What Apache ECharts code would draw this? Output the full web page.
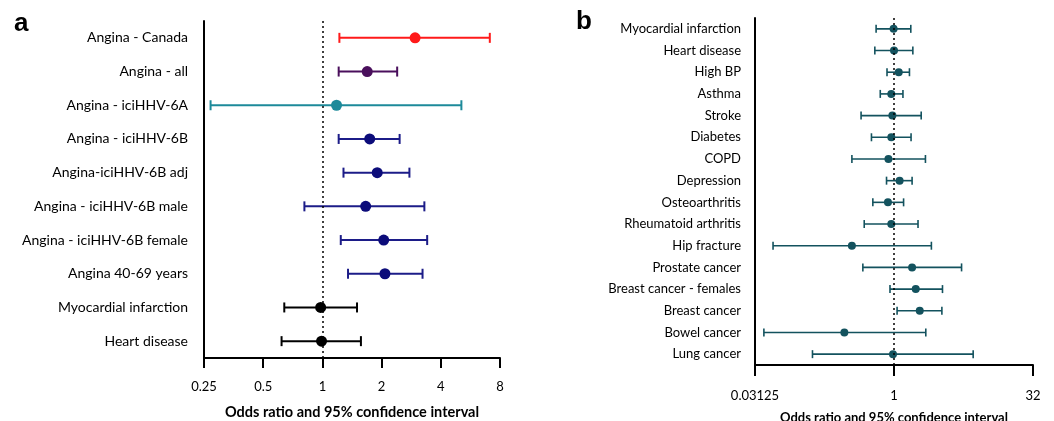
<!DOCTYPE html>
<html>
<head>
<meta charset="utf-8">
<script src="https://cdn.jsdelivr.net/npm/echarts@6/dist/echarts.min.js"></script>
<style>
  html, body { margin: 0; padding: 0; background: #fff; }
  #main { width: 1054px; height: 421px; }
</style>
</head>
<body>
<div id="main"></div>
<script>
// panel a - angina and iciHHV-6
var catsA = ['Angina - Canada', 'Angina - all', 'Angina - iciHHV-6A', 'Angina - iciHHV-6B',
    'Angina-iciHHV-6B adj', 'Angina - iciHHV-6B male', 'Angina - iciHHV-6B female',
    'Angina 40-69 years', 'Myocardial infarction', 'Heart disease'];
var orA = [2.96, 1.69, 1.18, 1.74, 1.90, 1.66, 2.05, 2.08, 0.98, 0.99];
var loA = [1.22, 1.21, 0.27, 1.21, 1.28, 0.81, 1.24, 1.35, 0.64, 0.62];
var hiA = [7.1, 2.40, 5.09, 2.47, 2.77, 3.30, 3.41, 3.23, 1.50, 1.57];
var ticksA = [0.25, 0.5, 1, 2, 4, 8];

// panel b - other conditions
var catsB = ['Myocardial infarction', 'Heart disease', 'High BP', 'Asthma', 'Stroke', 'Diabetes',
    'COPD', 'Depression', 'Osteoarthritis', 'Rheumatoid arthritis', 'Hip fracture',
    'Prostate cancer', 'Breast cancer - females', 'Breast cancer', 'Bowel cancer', 'Lung cancer'];
var orB = [0.99, 1.0, 1.125, 0.935, 0.96, 0.935, 0.87, 1.15, 0.86, 0.935, 0.35, 1.57, 1.72, 1.90, 0.29, 0.975];
var loB = [0.64, 0.62, 0.84, 0.71, 0.44, 0.57, 0.35, 0.83, 0.59, 0.476, 0.049, 0.46, 0.905, 1.08, 0.039, 0.131];
var hiB = [1.52, 1.60, 1.47, 1.25, 1.97, 1.53, 2.19, 1.57, 1.27, 1.82, 2.54, 5.39, 3.35, 3.30, 2.21, 7.2];
var ticksB = [0.03125, 1, 32];

// colours of rows in panel a
var navy = '#1c1c88';
var colA = ['#ff1a1a', '#4a0f5c', '#1d8a9a', navy, navy, navy, navy, navy, '#000', '#000'];
var colB = '#13525e';

var font = 'Lato';

function errBar(cap, width) {
    return function (params, api) {
        var y = api.value(2);
        var p1 = api.coord([api.value(0), y]);
        var p2 = api.coord([api.value(1), y]);
        var c = api.visual('color');
        var st = { stroke: c, lineWidth: width };
        return {
            type: 'group',
            children: [
                { type: 'line', shape: { x1: p1[0], y1: p1[1], x2: p2[0], y2: p2[1] }, style: st },
                { type: 'line', shape: { x1: p1[0], y1: p1[1] - cap, x2: p1[0], y2: p1[1] + cap }, style: st },
                { type: 'line', shape: { x1: p2[0], y1: p2[1] - cap, x2: p2[0], y2: p2[1] + cap }, style: st }
            ]
        };
    };
}

var myChart = echarts.init(document.getElementById('main'));

var barsA = [], ptsA = [], barsB = [], ptsB = [];
for (var i = 0; i < catsA.length; i++) {
    barsA.push({ value: [loA[i], hiA[i], i], itemStyle: { color: colA[i] } });
    ptsA.push({ value: [orA[i], i], itemStyle: { color: colA[i] === navy ? '#0c0c7a' : colA[i], opacity: 1 } });
}
for (var j = 0; j < catsB.length; j++) {
    barsB.push([loB[j], hiB[j], j]);
    ptsB.push([orB[j], j]);
}

var refLine = {
    symbol: 'none',
    silent: true,
    label: { show: false },
    lineStyle: { type: [2, 3], color: '#000', width: 1.5 },
    data: [{ xAxis: 1 }]
};

var option = {
    animation: false,
    textStyle: { fontFamily: font },
    title: [
        { text: 'a', left: 9, top: 6, textStyle: { fontFamily: 'Liberation Sans', fontSize: 26, fontWeight: 'bold', color: '#000' } },
        { text: 'b', left: 571, top: 4, textStyle: { fontFamily: 'Liberation Sans', fontSize: 26, fontWeight: 'bold', color: '#000' } }
    ],
    grid: [
        { left: 204, top: 21, width: 296, height: 337, outerBoundsMode: 'none', containLabel: false },
        { left: 755, top: 18, width: 278, height: 347, outerBoundsMode: 'none', containLabel: false }
    ],
    xAxis: [
        {
            gridIndex: 0, type: 'log', logBase: 2, min: ticksA[0], max: ticksA[ticksA.length - 1], interval: 1,
            axisLine: { show: true, lineStyle: { color: '#000', width: 2 } },
            axisTick: { show: true, length: 10, lineStyle: { color: '#000', width: 2 } },
            axisLabel: { color: '#000', fontSize: 13, margin: 22, fontFamily: font,
                formatter: function (v) { return String(v); } },
            splitLine: { show: false },
            name: 'Odds ratio and 95% confidence interval', nameLocation: 'middle', nameGap: 47,
            nameTextStyle: { fontFamily: font, fontWeight: 'bold', fontSize: 14.5, color: '#000' }
        },
        {
            gridIndex: 1, type: 'log', logBase: 32, min: ticksB[0], max: ticksB[ticksB.length - 1], interval: 1,
            axisLine: { show: true, lineStyle: { color: '#000', width: 2 } },
            axisTick: { show: true, length: 11, lineStyle: { color: '#000', width: 2 } },
            axisLabel: { color: '#000', fontSize: 13, margin: 24, fontFamily: font,
                formatter: function (v) { return String(v); } },
            splitLine: { show: false },
            name: 'Odds ratio and 95% confidence interval', nameLocation: 'middle', nameGap: 46,
            nameTextStyle: { fontFamily: font, fontWeight: 'bold', fontSize: 13, color: '#000' }
        }
    ],
    yAxis: [
        {
            gridIndex: 0, type: 'category', data: catsA, inverse: true,
            axisLine: { lineStyle: { color: '#000', width: 2 } },
            axisTick: { alignWithLabel: true, length: 10, lineStyle: { color: '#000', width: 2 } },
            axisLabel: { color: '#000', fontSize: 14, margin: 16, fontFamily: font }
        },
        {
            gridIndex: 1, type: 'category', data: catsB, inverse: true,
            axisLine: { lineStyle: { color: '#000', width: 2 } },
            axisTick: { alignWithLabel: true, length: 11, lineStyle: { color: '#000', width: 2 } },
            axisLabel: { color: '#000', fontSize: 13, margin: 14, fontFamily: font }
        }
    ],
    series: [
        {
            type: 'custom', xAxisIndex: 0, yAxisIndex: 0,
            renderItem: errBar(5, 2), encode: { x: [0, 1], y: 2 }, data: barsA, z: 2
        },
        {
            type: 'scatter', xAxisIndex: 0, yAxisIndex: 0, symbolSize: 11,
            data: ptsA, z: 3, markLine: refLine
        },
        {
            type: 'custom', xAxisIndex: 1, yAxisIndex: 1, itemStyle: { color: colB },
            renderItem: errBar(4, 1.6), encode: { x: [0, 1], y: 2 }, data: barsB, z: 2
        },
        {
            type: 'scatter', xAxisIndex: 1, yAxisIndex: 1, symbolSize: 8,
            itemStyle: { color: colB, opacity: 1 }, data: ptsB, z: 3, markLine: refLine
        }
    ]
};

myChart.setOption(option);
</script>
</body>
</html>
